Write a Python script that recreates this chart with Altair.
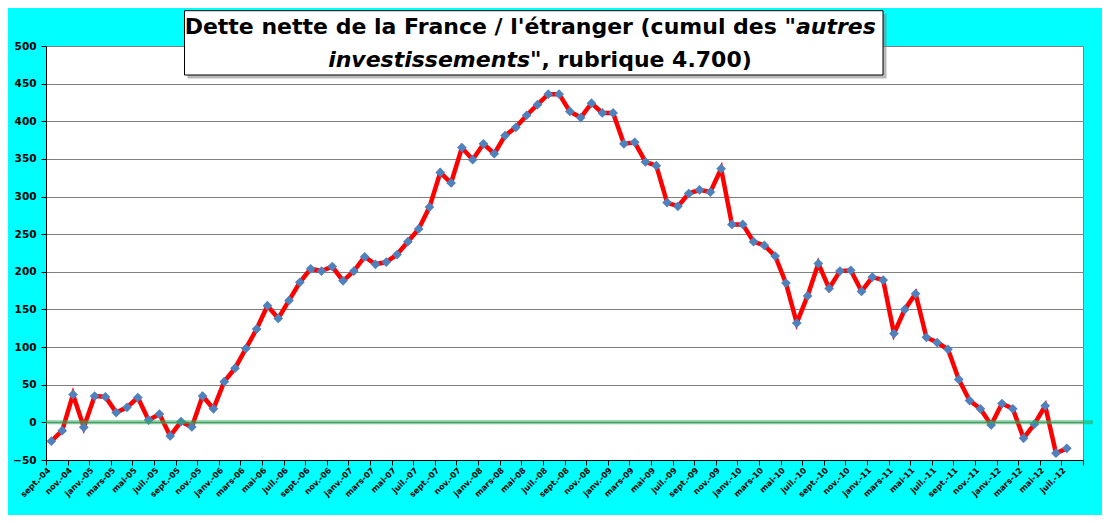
import json
import altair as alt
import pandas as pd

# ---- data (monthly, sept.-04 .. juil.-12; août-12 slot empty) ----
MONTHS = ["janv.", "févr.", "mars", "avr.", "mai", "juin",
          "juil.", "août", "sept.", "oct.", "nov.", "déc."]
START_MONTH = 8      # sept. (0-based)
START_YEAR = 4       # 2004
N_SLOTS = 96         # categories on the axis (last one empty)

values = [-25, -11, 37, -6.5, 35, 34, 13, 20, 33, 3, 11, -18, 1, -6, 35, 18, 54,
          72, 98, 124, 155, 138, 162, 186, 204, 201, 207, 188, 201, 220, 210, 213, 223, 240, 257,
          286, 332, 318, 365, 349, 370, 357, 381, 392, 408, 422, 436, 436, 413, 405, 424, 411, 411, 370, 372,
          346, 341, 292, 287, 304, 309, 306, 337, 263, 263, 240, 235, 221, 185, 132,
          168, 211, 178, 201, 202, 174, 193, 189, 118, 150, 171, 113, 106, 97, 57,
          29, 18, -3.5, 25, 18, -21, -2.5, 22, -41, -34.5]

categories = []
for k in range(N_SLOTS):
    m = (START_MONTH + k) % 12
    y = START_YEAR + (START_MONTH + k) // 12
    categories.append(f"{MONTHS[m]}-{y:02d}")
tick_labels = categories[0::2]

y_ticks = list(range(-50, 501, 50))

TITLE_L1_NORMAL = "Dette nette de la France / l'étranger (cumul des \""
TITLE_L1_ITALIC = "autres"
TITLE_L2_ITALIC = "investissements"
TITLE_L2_NORMAL = "\", rubrique 4.700)"

FONT = "DejaVu Sans"
W, H = 1037, 414

df = pd.DataFrame({"mois": categories[:len(values)], "dette": values})

base = alt.Chart(df).transform_window(
    row="row_number()"
).transform_calculate(
    pos="datum.row - 0.5"
)

label_expr = ("datum.value < %d ? %s[datum.value / 2] : ''"
              % (N_SLOTS, json.dumps(tick_labels, ensure_ascii=False)))

x_enc = alt.X(
    "pos:Q",
    scale=alt.Scale(domain=[0, N_SLOTS], nice=False, zero=False),
    axis=alt.Axis(
        title=None, values=list(range(0, N_SLOTS + 1, 2)), tickCount=500,
        labelExpr=label_expr,
        grid=False, domainColor="black", tickColor="black", tickSize=5,
        labelAngle=315, labelAlign="right", labelBaseline="middle",
        labelFont=FONT, labelFontWeight="bold", labelFontSize=8.2, labelColor="black",
        labelOffset=3, labelPadding=4, labelOverlap=False, labelBound=False,
    ),
)
y_enc = alt.Y(
    "dette:Q",
    scale=alt.Scale(domain=[-50, 500], nice=False, zero=False),
    axis=alt.Axis(
        title=None, values=y_ticks, tickCount=500, grid=True, gridColor="#808080", gridWidth=1,
        domainColor="black", tickColor="black", tickSize=5, labelOverlap=False,
        labelFont=FONT, labelFontWeight="bold", labelFontSize=10.5, labelColor="black",
        labelPadding=5,
    ),
)

line = base.mark_line(color="#FF0000", strokeWidth=4.5).encode(x=x_enc, y=y_enc)
points = base.mark_point(shape="diamond", filled=True, size=95,
                         color="#4F81BD", opacity=1).encode(x="pos:Q", y="dette:Q")

zero = alt.Chart(pd.DataFrame({"z": [0]})).mark_rule(
    color="#2EAA5C", strokeWidth=4, opacity=0.6
).encode(y="z:Q", x=alt.value(0), x2=alt.value(W + 10))

one = pd.DataFrame({"a": [1]})
shadow = alt.Chart(one).mark_rect(color="#7f7f7f", opacity=0.55).encode(
    x=alt.value(141.5), x2=alt.value(840.5), y=alt.value(-32), y2=alt.value(32.5))
box = alt.Chart(one).mark_rect(fill="white", stroke="black", strokeWidth=1).encode(
    x=alt.value(138.5), x2=alt.value(837), y=alt.value(-35.3), y2=alt.value(29))


def title_text(txt, x, y, align, italic):
    return alt.Chart(pd.DataFrame({"t": [txt]})).mark_text(
        font=FONT, fontSize=22, fontWeight="bold",
        fontStyle="italic" if italic else "normal",
        align=align, baseline="alphabetic", color="black",
    ).encode(text="t:N", x=alt.value(x), y=alt.value(y))


t1a = title_text(TITLE_L1_NORMAL, 750, -11.7, "right", False)
t1b = title_text(TITLE_L1_ITALIC, 750, -11.7, "left", True)
t2a = title_text(TITLE_L2_ITALIC, 484, 21.3, "right", True)
t2b = title_text(TITLE_L2_NORMAL, 484, 21.3, "left", False)

chart = alt.layer(line, points, zero, shadow, box, t1a, t1b, t2a, t2b).properties(
    width=W, height=H,
    padding={"left": 38, "top": 38, "right": 19, "bottom": 55},
    autosize=alt.AutoSizeParams(type="none"),
    background="#00FFFF",
).configure_view(
    stroke="#808080", fill="white"
)

chart.save("out.html", embed_options={"renderer": "svg", "actions": False})
